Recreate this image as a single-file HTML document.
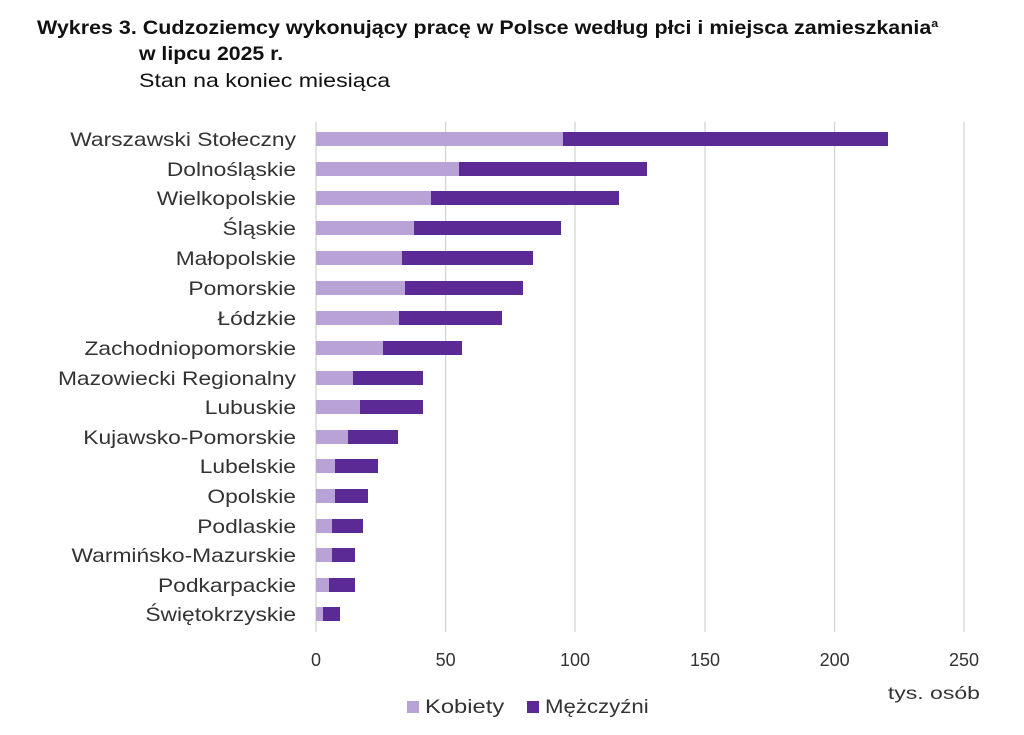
<!DOCTYPE html>
<html><head><meta charset="utf-8"><style>
body{margin:0;background:#fff;}
svg{display:block;font-family:"Liberation Sans",sans-serif;}
</style></head><body>
<svg width="1024" height="735" viewBox="0 0 1024 735">
<g transform="translate(37,0) scale(1.13,1) translate(-37,0)">
<text x="37" y="34" font-size="19" font-weight="bold" fill="#111">Wykres 3. Cudzoziemcy wykonujący pracę w Polsce według płci i miejsca zamieszkania<tspan font-size="11" dy="-7">a</tspan></text>
</g>
<g transform="translate(139,0) scale(1.12,1) translate(-139,0)">
<text x="139" y="60" font-size="19" font-weight="bold" fill="#111">w lipcu 2025 r.</text>
</g>
<g transform="translate(139,0) scale(1.22,1) translate(-139,0)">
<text x="139" y="87" font-size="19" fill="#111">Stan na koniec miesiąca</text>
</g>
<g stroke="#d4d4d4" stroke-width="1.3">
<line x1="316" y1="122" x2="316" y2="632"/>
<line x1="445.6" y1="122" x2="445.6" y2="632"/>
<line x1="575" y1="122" x2="575" y2="632"/>
<line x1="705" y1="122" x2="705" y2="632"/>
<line x1="834.6" y1="122" x2="834.6" y2="632"/>
<line x1="964" y1="122" x2="964" y2="632"/>
</g>
<g font-size="19" fill="#333" text-anchor="end" transform="translate(296,0) scale(1.2,1) translate(-296,0)">
<text x="296" y="146">Warszawski Stołeczny</text>
<text x="296" y="176">Dolnośląskie</text>
<text x="296" y="205">Wielkopolskie</text>
<text x="296" y="235">Śląskie</text>
<text x="296" y="265">Małopolskie</text>
<text x="296" y="295">Pomorskie</text>
<text x="296" y="325">Łódzkie</text>
<text x="296" y="355">Zachodniopomorskie</text>
<text x="296" y="385">Mazowiecki Regionalny</text>
<text x="296" y="414">Lubuskie</text>
<text x="296" y="444">Kujawsko-Pomorskie</text>
<text x="296" y="473">Lubelskie</text>
<text x="296" y="503">Opolskie</text>
<text x="296" y="533">Podlaskie</text>
<text x="296" y="562">Warmińsko-Mazurskie</text>
<text x="296" y="592">Podkarpackie</text>
<text x="296" y="621">Świętokrzyskie</text>
</g>
<g>
<rect x="316" y="132" width="247" height="14" fill="#b9a3d6"/><rect x="563" y="132" width="325" height="14" fill="#5b2a95"/>
<rect x="316" y="162" width="143" height="14" fill="#b9a3d6"/><rect x="459" y="162" width="188" height="14" fill="#5b2a95"/>
<rect x="316" y="191" width="115" height="14" fill="#b9a3d6"/><rect x="431" y="191" width="188" height="14" fill="#5b2a95"/>
<rect x="316" y="221" width="98" height="14" fill="#b9a3d6"/><rect x="414" y="221" width="147" height="14" fill="#5b2a95"/>
<rect x="316" y="251" width="86" height="14" fill="#b9a3d6"/><rect x="402" y="251" width="131" height="14" fill="#5b2a95"/>
<rect x="316" y="281" width="89" height="14" fill="#b9a3d6"/><rect x="405" y="281" width="118" height="14" fill="#5b2a95"/>
<rect x="316" y="311" width="83" height="14" fill="#b9a3d6"/><rect x="399" y="311" width="103" height="14" fill="#5b2a95"/>
<rect x="316" y="341" width="67" height="14" fill="#b9a3d6"/><rect x="383" y="341" width="79" height="14" fill="#5b2a95"/>
<rect x="316" y="371" width="37" height="14" fill="#b9a3d6"/><rect x="353" y="371" width="70" height="14" fill="#5b2a95"/>
<rect x="316" y="400" width="44" height="14" fill="#b9a3d6"/><rect x="360" y="400" width="63" height="14" fill="#5b2a95"/>
<rect x="316" y="430" width="32" height="14" fill="#b9a3d6"/><rect x="348" y="430" width="50" height="14" fill="#5b2a95"/>
<rect x="316" y="459" width="19" height="14" fill="#b9a3d6"/><rect x="335" y="459" width="43" height="14" fill="#5b2a95"/>
<rect x="316" y="489" width="19" height="14" fill="#b9a3d6"/><rect x="335" y="489" width="33" height="14" fill="#5b2a95"/>
<rect x="316" y="519" width="16" height="14" fill="#b9a3d6"/><rect x="332" y="519" width="31" height="14" fill="#5b2a95"/>
<rect x="316" y="548" width="16" height="14" fill="#b9a3d6"/><rect x="332" y="548" width="23" height="14" fill="#5b2a95"/>
<rect x="316" y="578" width="13" height="14" fill="#b9a3d6"/><rect x="329" y="578" width="26" height="14" fill="#5b2a95"/>
<rect x="316" y="607" width="7" height="14" fill="#b9a3d6"/><rect x="323" y="607" width="17" height="14" fill="#5b2a95"/>
</g>
<g font-size="18" fill="#333" text-anchor="middle">
<text x="316" y="666">0</text>
<text x="445.6" y="666">50</text>
<text x="575" y="666">100</text>
<text x="705" y="666">150</text>
<text x="834.6" y="666">200</text>
<text x="964" y="666">250</text>
</g>
<g transform="translate(980,0) scale(1.28,1) translate(-980,0)">
<text x="980" y="699" font-size="18" fill="#333" text-anchor="end">tys. osób</text>
</g>
<rect x="407" y="701" width="12" height="12" fill="#b9a3d6"/>
<g transform="translate(425,0) scale(1.25,1) translate(-425,0)">
<text x="425" y="713" font-size="19" fill="#333">Kobiety</text>
</g>
<rect x="527" y="701" width="12" height="12" fill="#5b2a95"/>
<g transform="translate(545,0) scale(1.17,1) translate(-545,0)">
<text x="545" y="713" font-size="19" fill="#333">Mężczyźni</text>
</g>
</svg>
</body></html>
